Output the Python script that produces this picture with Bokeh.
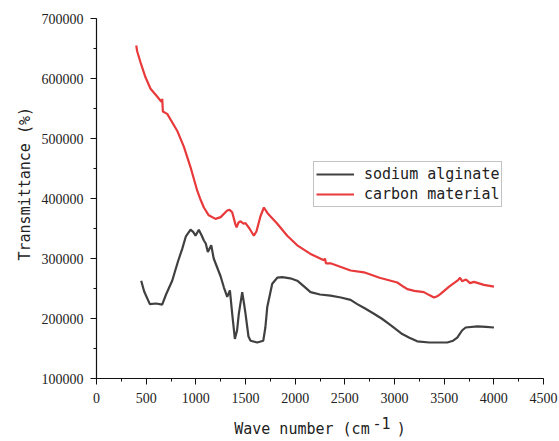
from bokeh.plotting import figure
from bokeh.models import (Range1d, SingleIntervalTicker, FixedTicker, BasicTickFormatter,
                          LinearAxis, Title, Legend, LegendItem)
from bokeh.embed import file_html
from bokeh.resources import INLINE

# FTIR spectra: wave number (cm^-1) vs transmittance
alginate_wn = [450, 480, 537, 600, 661, 700, 762, 820, 863, 900, 947, 975, 997, 1030,
               1060, 1081, 1100, 1121, 1155, 1180, 1215, 1250, 1282, 1316, 1343, 1366,
               1393, 1415, 1433, 1467, 1485, 1500, 1530, 1551, 1618, 1679, 1700, 1719,
               1769, 1820, 1870, 1950, 2021, 2100, 2155, 2250, 2356, 2460, 2558, 2625,
               2700, 2793, 2870, 2944, 3000, 3078, 3150, 3229, 3350, 3450, 3531, 3590,
               3632, 3680, 3716, 3834, 3920, 4001]
alginate_t = [263000, 245000, 224000, 225000, 223000, 240000, 263000, 295000, 316000,
              337000, 348000, 344000, 338000, 348000, 338000, 330000, 325000, 311000,
              322000, 300000, 285000, 270000, 252000, 236000, 247000, 208000, 166000,
              180000, 208000, 244000, 225000, 208000, 170000, 163000, 160000, 163000,
              185000, 219000, 258000, 268000, 269000, 267000, 263000, 252000, 244000,
              240000, 238000, 235000, 231000, 224000, 217000, 208000, 200000, 191000,
              184000, 174000, 168000, 162000, 160000, 160000, 160000, 163000, 168000,
              180000, 185000, 187000, 186000, 185000]

carbon_wn = [400, 410, 443, 493, 544, 600, 645, 655, 662, 668, 712, 812, 880, 947, 1014,
             1050, 1081, 1130, 1198, 1250, 1316, 1340, 1366, 1400, 1410, 1430, 1450, 1480,
             1500, 1540, 1584, 1610, 1650, 1685, 1720, 1820, 1920, 2021, 2150, 2289, 2300,
             2310, 2356, 2558, 2692, 2850, 3028, 3100, 3129, 3200, 3296, 3350, 3397, 3430,
             3464, 3550, 3640, 3660, 3680, 3720, 3760, 3800, 3900, 4001]
carbon_t = [655000, 645000, 627000, 602000, 583000, 572000, 563000, 561000, 566000,
            545000, 541000, 513000, 486000, 452000, 413000, 397000, 385000, 372000,
            366000, 369000, 380000, 381000, 377000, 356000, 352000, 360000, 362000,
            358000, 359000, 350000, 338000, 345000, 370000, 385000, 376000, 358000,
            338000, 322000, 308000, 297000, 300000, 292000, 292000, 280000, 277000,
            268000, 260000, 252000, 249000, 246000, 244000, 239000, 235000, 237000,
            241000, 253000, 264000, 268000, 262000, 265000, 259000, 261000, 256000,
            253000]

series_names = ["sodium alginate", "carbon material"]
series_colors = ["#404040", "#e8393b"]
# non-breaking spaces keep room for the raised exponent (plain spaces collapse in SVG)
x_title = "Wave number (cm\u00a0\u00a0\u00a0)"
x_title_exp = "-1"
y_title = "Transmittance (%)"

mono = "DejaVu Sans Mono"
serif = "Liberation Serif"

p = figure(width=559, height=441, output_backend="svg", toolbar_location=None,
           x_range=Range1d(0, 4500), y_range=Range1d(100000, 700000),
           min_border_left=96, min_border_right=16, min_border_top=18,
           min_border_bottom=63)
p.outline_line_color = None
p.xgrid.visible = False
p.ygrid.visible = False
p.background_fill_color = "white"
p.border_fill_color = "white"

r1 = p.line(alginate_wn, alginate_t, line_color=series_colors[0], line_width=2.2)
r2 = p.line(carbon_wn, carbon_t, line_color=series_colors[1], line_width=2.2)

p.xaxis.ticker = SingleIntervalTicker(interval=500, num_minor_ticks=2)
p.yaxis.ticker = SingleIntervalTicker(interval=100000, num_minor_ticks=2)
p.yaxis.formatter = BasicTickFormatter(use_scientific=False)
for ax in (p.xaxis[0], p.yaxis[0]):
    ax.axis_line_color = "#111111"
    ax.axis_line_width = 1.2
    ax.major_tick_line_color = "#111111"
    ax.minor_tick_line_color = "#111111"
    ax.major_tick_in = 0
    ax.major_tick_out = 6
    ax.minor_tick_in = 0
    ax.minor_tick_out = 3
    ax.major_label_text_font = serif
    ax.major_label_text_font_size = "14px"
    ax.major_label_text_color = "#222222"
    ax.axis_label = None
p.yaxis.major_label_standoff = 7
p.xaxis.major_label_standoff = 8

# y title as a side-panel title so it can sit off-centre
p.add_layout(Title(text=y_title, offset=118, align="left", text_font=mono,
                   text_font_size="15px", text_font_style="normal",
                   text_color="#222222"), "left")

# x title: a bare second axis carries the raised exponent as its only tick label,
# with the main title as its axis label tucked up beside it
exp_pos = 2869
exp_axis = LinearAxis(ticker=FixedTicker(ticks=[exp_pos]),
                      major_label_overrides={exp_pos: x_title_exp},
                      axis_line_color=None, major_tick_line_color=None,
                      minor_tick_line_color=None, major_tick_in=0, major_tick_out=0,
                      minor_tick_in=0, minor_tick_out=0, major_label_standoff=11,
                      major_label_text_font=mono, major_label_text_font_size="15px",
                      major_label_text_color="#222222",
                      axis_label=x_title, axis_label_standoff=-12,
                      axis_label_text_font=mono, axis_label_text_font_size="15px",
                      axis_label_text_font_style="normal",
                      axis_label_text_color="#222222")
p.add_layout(exp_axis, "below")

legend = Legend(items=[LegendItem(label=series_names[0], renderers=[r1]),
                       LegendItem(label=series_names[1], renderers=[r2])],
                location=(217, 171))
legend.label_text_font = mono
legend.label_text_font_size = "15px"
legend.label_text_color = "#222222"
legend.glyph_width = 38
legend.glyph_height = 20
legend.label_height = 20
legend.label_standoff = 10
legend.padding = 2
legend.margin = 0
legend.spacing = 0
legend.border_line_color = "#888888"
legend.border_line_width = 1
legend.background_fill_alpha = 1
p.add_layout(legend)

open("out.html", "w").write(file_html(p, INLINE))
